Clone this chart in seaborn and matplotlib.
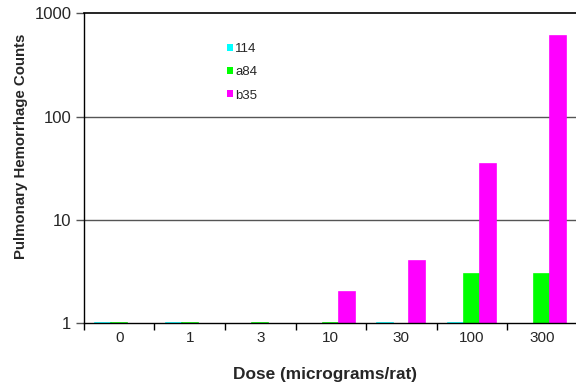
import numpy as np
import pandas as pd
import matplotlib
matplotlib.use("Agg")
import matplotlib.pyplot as plt
import seaborn as sns
from matplotlib.ticker import FixedLocator, NullFormatter, FixedFormatter, NullLocator

doses = ["0", "1", "3", "10", "30", "100", "300"]
series = ["114", "a84", "b35"]
vals_114 = [1, 1, np.nan, np.nan, 1, 1, np.nan]
vals_a84 = [1, 1, 1, 1, np.nan, 3, 3]
vals_b35 = [np.nan, np.nan, np.nan, 2, 4, 35, 600]
colors = ["#00ffff", "#00ff00", "#ff00ff"]

df = pd.DataFrame({
    "dose": doses * 3,
    "strain": [s for s in series for _ in doses],
    "count": vals_114 + vals_a84 + vals_b35,
}).dropna()

sns.set_style("white")
plt.rcParams["font.family"] = ["Liberation Sans", "DejaVu Sans"]

fig = plt.figure(figsize=(5.76, 3.87), dpi=100)
ax = fig.add_axes([0.1458, 0.1654, 0.857, 0.80])
ax.set_yscale("log")

sns.barplot(data=df, x="dose", y="count", hue="strain", order=doses,
            hue_order=series, palette=colors, width=0.68, ax=ax,
            edgecolor=None, linewidth=0, saturation=1, errorbar=None)
# same-colour edges so the zero-height bars at 1 still show as a line
for bars, c in zip(ax.containers, colors):
    for b in bars:
        b.set_edgecolor(c)
        b.set_linewidth(1.2)

ax.set_ylim(1, 1000)
ax.set_xlim(-0.5, 6.5)

ax.yaxis.set_major_locator(FixedLocator([1, 10, 100, 1000]))
ax.yaxis.set_major_formatter(FixedFormatter(["1", "10", "100", "1000"]))
ax.yaxis.set_minor_locator(NullLocator())
for yv in [10, 100]:
    ax.axhline(yv, color="#555555", lw=1, zorder=0)

ax.xaxis.set_major_locator(FixedLocator(np.arange(-0.5, 7.0, 1.0)))
ax.xaxis.set_major_formatter(NullFormatter())
ax.xaxis.set_minor_locator(FixedLocator(np.arange(7)))
ax.xaxis.set_minor_formatter(FixedFormatter(doses))
ax.tick_params(axis="x", which="major", direction="out", length=5, width=1, color="black", bottom=True)
ax.tick_params(axis="x", which="minor", length=0, pad=6, labelsize=11)
ax.tick_params(axis="y", which="major", direction="out", length=6, width=1, color="#555555",
               left=True, pad=3, labelsize=12)

ax.spines["right"].set_visible(False)
ax.spines["top"].set_color("black")
ax.spines["top"].set_linewidth(1.2)
for s in ["left", "bottom"]:
    ax.spines[s].set_color("black")
    ax.spines[s].set_linewidth(1)

ax.set_xlabel("Dose (micrograms/rat)", fontsize=12.4, fontweight="bold")
ax.xaxis.set_label_coords(0.488, -0.143)
ax.set_ylabel("Pulmonary Hemorrhage Counts", fontsize=10.8, fontweight="bold")
ax.yaxis.set_label_coords(-0.114, 0.57)

ax.legend(title=None, frameon=False, loc="upper left", bbox_to_anchor=(0.277, 0.925),
          fontsize=9.5, handlelength=0.45, handleheight=0.45, handletextpad=0.15,
          labelspacing=0.85, borderpad=0)

fig.savefig("out.png", dpi=100)
